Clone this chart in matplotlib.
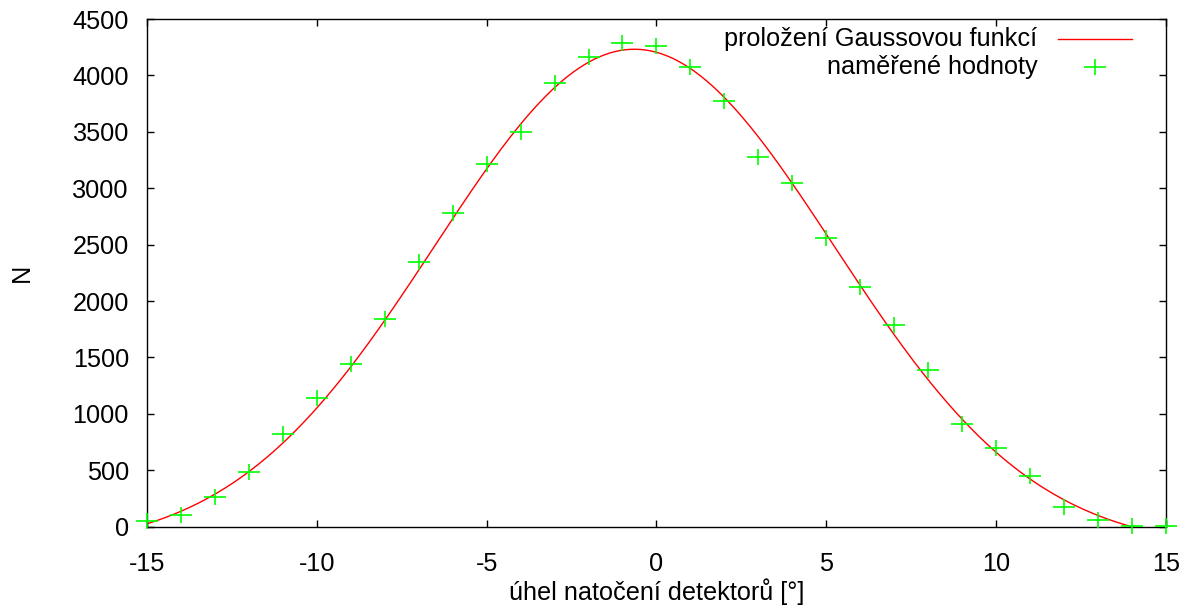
import numpy as np
import matplotlib
matplotlib.use("Agg")
import matplotlib.pyplot as plt
from matplotlib.path import Path
from matplotlib.lines import Line2D

# measured counts vs detector angle
uhel = [-15, -14, -13, -12, -11, -10, -9, -8, -7, -6, -5, -4, -3, -2, -1,
        0, 1, 2, 3, 4, 5, 6, 7, 8, 9, 10, 11, 12, 13, 14, 15]
pocty = [53, 104, 260, 487, 821, 1138, 1442, 1840, 2345, 2777, 3211, 3497,
         3934, 4164, 4283, 4262, 4073, 3769, 3278, 3048, 2561, 2121, 1787,
         1388, 910, 700, 449, 172, 59, 5, 5]

# gaussian fit parameters
fit_A = 4432.0
fit_mu = -0.65
fit_sigma = 5.88
fit_c = -200.0

xticks = [-15, -10, -5, 0, 5, 10, 15]
yticks = list(range(0, 4501, 500))

plt.rcParams['font.family'] = ['Liberation Sans', 'DejaVu Sans']
plt.rcParams['axes.unicode_minus'] = False
fs = 18.2

fig = plt.figure(figsize=(11.94, 6.13), dpi=100)
ax = fig.add_axes([0.1231, 0.1408, 0.9765 - 0.1231, 0.969 - 0.1408])

xf = np.linspace(-15, 15, 600)
yf = fit_A * np.exp(-(xf - fit_mu) ** 2 / (2 * fit_sigma ** 2)) + fit_c
ax.plot(xf, yf, color='#ff0000', lw=1.0)

plus = Path([(-1, 0), (1, 0), (0, -0.72), (0, 0.72)],
            [Path.MOVETO, Path.LINETO, Path.MOVETO, Path.LINETO])
ax.plot(uhel, pocty, ls='none', marker=plus, ms=16, mew=1.2,
        color='#00ff00', clip_on=False, zorder=3)

ax.set_xlim(-15, 15)
ax.set_ylim(0, 4500)
ax.set_xticks(xticks)
ax.set_yticks(yticks)
ax.tick_params(direction='in', length=5, width=1, top=True, right=True,
               labelsize=fs, colors='black')
ax.tick_params(axis='x', pad=18)
ax.tick_params(axis='y', pad=13)
for s in ax.spines.values():
    s.set_linewidth(1.0)

ax.set_xlabel("úhel natočení detektorů [°]", fontsize=fs, labelpad=2)
ax.set_ylabel("N", fontsize=fs, labelpad=28)

# gnuplot-style key, text right aligned with sample on the right
ax.text(0.874, 0.961, "proložení Gaussovou funkcí", transform=ax.transAxes,
        ha='right', va='center', fontsize=fs)
ax.text(0.874, 0.906, "naměřené hodnoty", transform=ax.transAxes,
        ha='right', va='center', fontsize=fs)
ax.add_line(Line2D([0.894, 0.967], [0.961, 0.961], transform=ax.transAxes,
                   color='#ff0000', lw=1.0))
ax.add_line(Line2D([0.9304], [0.906], transform=ax.transAxes, ls='none',
                   marker=plus, ms=16, mew=1.2, color='#00ff00'))

fig.savefig("out.png", dpi=100)
